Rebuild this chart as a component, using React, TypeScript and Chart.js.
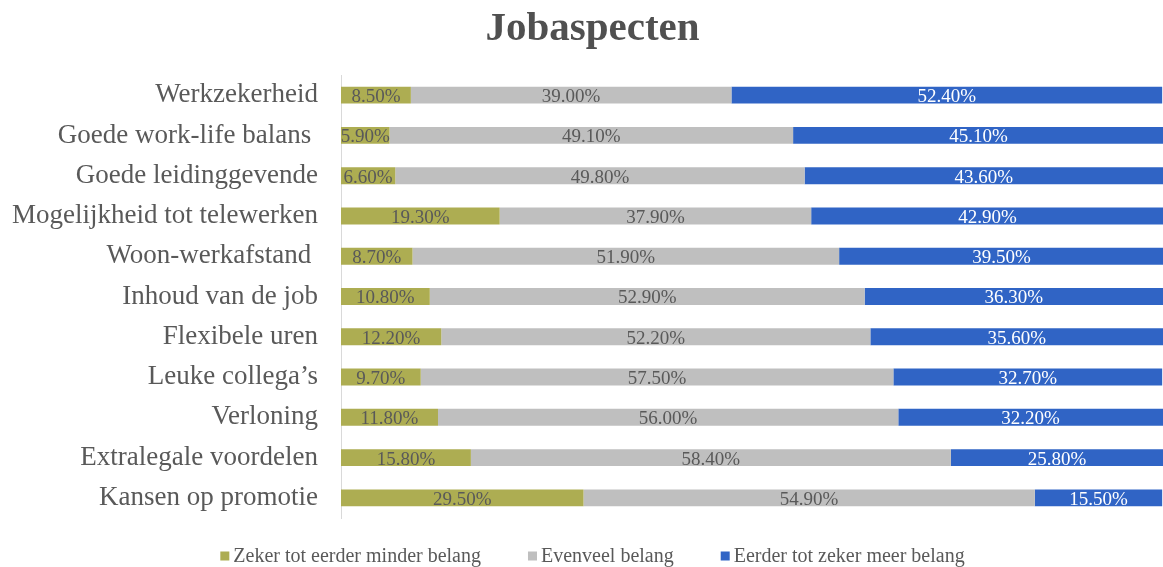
import { useEffect, useRef } from 'react';
import { Chart, registerables } from 'chart.js';

Chart.register(...registerables);

const chartTitle = 'Jobaspecten';

const categories = [
  'Werkzekerheid',
  'Goede work-life balans ',
  'Goede leidinggevende',
  'Mogelijkheid tot telewerken',
  'Woon-werkafstand ',
  'Inhoud van de job',
  'Flexibele uren',
  'Leuke collega’s',
  'Verloning',
  'Extralegale voordelen',
  'Kansen op promotie',
];

const minderBelang = [8.5, 5.9, 6.6, 19.3, 8.7, 10.8, 12.2, 9.7, 11.8, 15.8, 29.5];
const evenveelBelang = [39.0, 49.1, 49.8, 37.9, 51.9, 52.9, 52.2, 57.5, 56.0, 58.4, 54.9];
const meerBelang = [52.4, 45.1, 43.6, 42.9, 39.5, 36.3, 35.6, 32.7, 32.2, 25.8, 15.5];

const seriesNames = [
  'Zeker tot eerder minder belang',
  'Evenveel belang',
  'Eerder tot zeker meer belang',
];
const seriesColors = ['#ADAD52', '#BFBFBF', '#3064C5'];
const labelColors = ['#595959', '#595959', '#FFFFFF'];

const FONT = '"Liberation Serif", "Times New Roman", serif';
const TEXT = '#595959';

const dataLabels = {
  id: 'dataLabels',
  afterDatasetsDraw(chart: any) {
    const ctx = chart.ctx;
    ctx.save();
    ctx.font = `19px ${FONT}`;
    ctx.textAlign = 'center';
    ctx.textBaseline = 'middle';
    chart.data.datasets.forEach((ds: any, di: number) => {
      const meta = chart.getDatasetMeta(di);
      meta.data.forEach((bar: any, i: number) => {
        const v = ds.data[i] as number;
        const x = (bar.x + bar.base) / 2;
        ctx.fillStyle = labelColors[di];
        ctx.fillText(v.toFixed(2) + '%', x, bar.y + 2);
      });
    });
    ctx.restore();
  },
};

const titleAndLegend = {
  id: 'titleAndLegend',
  afterDraw(chart: any) {
    const ctx = chart.ctx;
    ctx.save();
    // title
    ctx.font = `bold 41px ${FONT}`;
    ctx.fillStyle = '#505050';
    ctx.textAlign = 'center';
    ctx.textBaseline = 'middle';
    ctx.fillText(chartTitle, chart.width / 2 + 11, 29.5);

    // legend
    const fontSize = 20;
    ctx.font = `${fontSize}px ${FONT}`;
    ctx.textBaseline = 'middle';
    ctx.textAlign = 'left';
    const box = 9;
    const boxGap = 4;
    const itemGap = 47;
    const items = chart.data.datasets.map((ds: any) => ({
      text: ds.label as string,
      color: ds.backgroundColor as string,
      w: box + boxGap + ctx.measureText(ds.label).width,
    }));
    const total = items.reduce((a: number, it: any) => a + it.w, 0) + itemGap * (items.length - 1);
    let x = chart.width / 2 + 11 - total / 2;
    const y = 556;
    items.forEach((it: any) => {
      ctx.fillStyle = it.color;
      ctx.fillRect(x, y - box / 2, box, box);
      ctx.fillStyle = TEXT;
      ctx.fillText(it.text, x + box + boxGap, y + 1);
      x += it.w + itemGap;
    });
    ctx.restore();
  },
};

export default function App() {
  const ref = useRef<HTMLCanvasElement | null>(null);

  useEffect(() => {
    if (!ref.current) return;
    const series = [minderBelang, evenveelBelang, meerBelang];
    const chart = new Chart(ref.current, {
      type: 'bar',
      data: {
        labels: categories,
        datasets: series.map((d, i) => ({
          label: seriesNames[i],
          data: d,
          backgroundColor: seriesColors[i],
          borderWidth: 0,
          barPercentage: 0.42,
          categoryPercentage: 1,
        })),
      },
      options: {
        indexAxis: 'y',
        responsive: false,
        animation: false,
        events: [],
        layout: { padding: { top: 75, right: 0, bottom: 49, left: 0 } },
        plugins: {
          legend: { display: false },
          tooltip: { enabled: false },
          title: { display: false },
        },
        scales: {
          x: {
            stacked: true,
            min: 0,
            max: 100,
            display: false,
          },
          y: {
            stacked: true,
            grid: { display: false },
            border: { display: true, color: '#D9D9D9', width: 1 },
            ticks: {
              color: TEXT,
              font: { family: FONT, size: 27 },
              padding: 15,
            },
            afterFit: (s: any) => {
              s.width = 341;
            },
          },
        },
      },
      plugins: [dataLabels, titleAndLegend],
    });
    return () => chart.destroy();
  }, []);

  return (
    <div style={{ position: 'absolute', left: 0, top: 0, width: 1163, height: 567, background: '#fff' }}>
      <canvas ref={ref} width={1163} height={567} style={{ width: 1163, height: 567 }} />
    </div>
  );
}
